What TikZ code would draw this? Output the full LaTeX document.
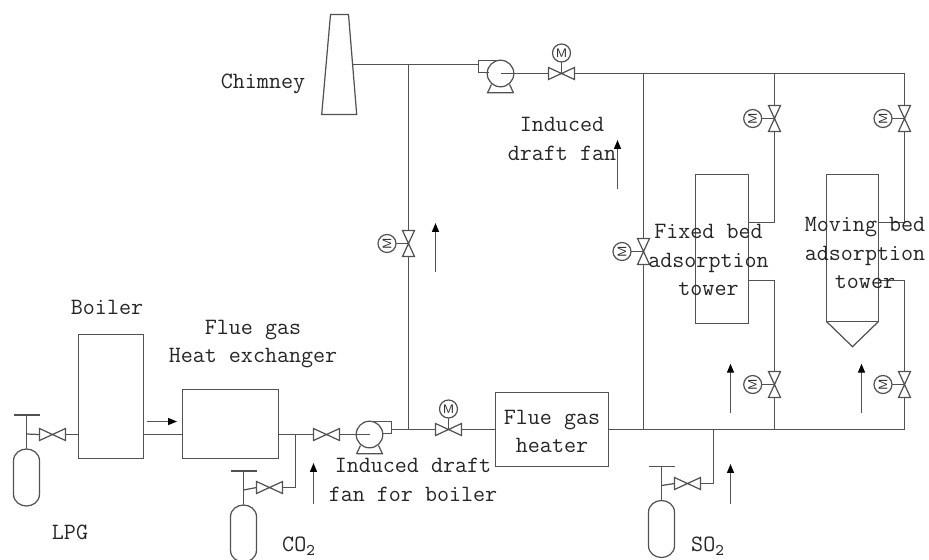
\documentclass[tikz,border=0pt]{standalone}
\usetikzlibrary{arrows.meta}

\definecolor{pipegray}{gray}{0.32}
\definecolor{labelgray}{gray}{0.15}

\tikzset{
  unitbox/.style={rectangle, draw=pipegray, inner sep=0pt, outer sep=0pt},
  actuator/.style={circle, draw=pipegray, inner sep=0pt, outer sep=0pt, minimum size=0.36cm, text=labelgray, font=\fontsize{7}{7}\selectfont\sffamily},
  caption/.style={text=labelgray, align=center, inner sep=0pt, font=\fontsize{13.3}{16.4}\selectfont\ttfamily},
  flow/.style={-{Triangle[length=5.1pt,width=4pt,black]}},
  valve/.pic={
    \draw (-13,-6) -- (13,6) -- (13,-6) -- (-13,6) -- cycle;
    \coordinate (-w) at (-13,0);
    \coordinate (-e) at (13,0);
    \coordinate (-c) at (0,0);
  },
  bottle/.pic={
    \draw (-13,12) .. controls (-13,4) and (-6,0) .. (0,0) .. controls (6,0) and (13,4) .. (13,12)
      -- (13,45) .. controls (13,53) and (6,57) .. (0,57) .. controls (-6,57) and (-13,53) .. (-13,45) -- cycle;
    \draw (-13,-34) -- (13,-34);
    \draw (0,-34) -- (0,0);
    \coordinate (-stem) at (0,-15);
  },
  fan/.pic={
    \draw (0,0) circle (13.3);
    \draw (0,-13) -- (22,-13) -- (22,-1) -- (12,-1);
    \draw (-13,19.3) -- (13,19.3) -- (9,11) (-13,19.3) -- (-9,11);
    \coordinate (-c) at (0,0);
  }
}

\begin{document}
\begin{tikzpicture}[x=0.02cm, y=-0.02cm, draw=pipegray, line width=0.7pt]
  \useasboundingbox (0,0) rectangle (929,559);

  % Equipment
  \node (boiler) at (111,396.5) [unitbox, minimum width=1.3cm, minimum height=2.48cm] {};
  \node (exchanger) at (230.5,424) [unitbox, minimum width=1.92cm, minimum height=1.38cm] {};
  \node (heater) at (552,429.5) [unitbox, minimum width=2.26cm, minimum height=1.48cm] {};
  \node (fixedbed) at (722,249) [unitbox, minimum width=1.06cm, minimum height=2.98cm] {};
  \node (movingbed) at (852.5,248) [unitbox, minimum width=1.04cm, minimum height=2.94cm] {};
  \draw (movingbed.south west) -- (852.5,346.7) -- (movingbed.south east);
  \draw (330.5,14.5) -- (348.5,14.5) -- (356.7,114.5) -- (321.7,114.5) -- cycle;
  \coordinate (chimneyout) at (353,64.5);

  % Bottles, fans and valves
  \pic (lpg) at (26.5,449) {bottle};
  \pic (co2) at (243.5,505) {bottle};
  \pic (so2) at (661.5,500.5) {bottle};
  \pic (boilerfan) at (369.5,434.5) {fan};
  \pic[xscale=-1] (mainfan) at (500.5,73.5) {fan};

  \pic (vlpg) at (52.5,434.5) {valve};
  \pic (vco2) at (269.5,487.5) {valve};
  \pic (vso2) at (687.5,483.5) {valve};
  \pic (vfan) at (326.5,434.5) {valve};
  \pic (vboiler) at (448.5,429.5) {valve};
  \pic (vtop) at (561.5,73.5) {valve};
  \pic[rotate=90] (vrise) at (408.5,243.5) {valve};
  \pic[rotate=90] (vbypass) at (643.5,251.5) {valve};
  \pic[rotate=90] (vfixedtop) at (774.5,118.5) {valve};
  \pic[rotate=90] (vmovingtop) at (904.5,118.5) {valve};
  \pic[rotate=90] (vfixedlow) at (774.5,384.5) {valve};
  \pic[rotate=90] (vmovinglow) at (904.5,384.5) {valve};

  \node (mboiler) at (448.5,409) [actuator] {M};
  \node (mtop) at (561.5,53) [actuator] {M};
  \node (mrise) at (387,243.5) [actuator, rotate=90] {M};
  \node (mbypass) at (622,251.5) [actuator, rotate=90] {M};
  \node (mfixedtop) at (752.7,118.5) [actuator, rotate=90] {M};
  \node (mmovingtop) at (883,118.5) [actuator, rotate=90] {M};
  \node (mfixedlow) at (752.7,384.5) [actuator, rotate=90] {M};
  \node (mmovinglow) at (883,384.5) [actuator, rotate=90] {M};

  % Junctions
  \coordinate (boilerjoin) at (408.5,429.5);
  \coordinate (chimneyjoin) at (408.5,64.5);
  \coordinate (bypassjoin) at (643.5,429.5);
  \coordinate (bypasstop) at (643.5,73.5);
  \coordinate (fixedjoin) at (774.5,429.5);
  \coordinate (fixedtopjoin) at (774.5,73.5);
  \coordinate (movingjoin) at (904.5,429.5);
  \coordinate (movingtopjoin) at (904.5,73.5);
  \coordinate (so2join) at (713.5,429.5);
  \coordinate (co2join) at (295.5,434.5);
  \coordinate (fanout) at (391.5,429.5);
  \coordinate (mainfanout) at (478.5,64.5);

  % Edges
  \draw (lpg-stem) -- (vlpg-w);
  \draw (vlpg-e) -- (boiler.west |- vlpg-e);
  \draw (boiler.east |- vlpg-e) -- (exchanger.west |- vlpg-e);
  \draw (exchanger.east |- vfan-w) -- (vfan-w);
  \draw (vfan-e) -- (boilerfan-c);
  \draw (co2join) |- (vco2-e);
  \draw (vco2-w) -- (co2-stem);
  \draw (fanout) -- (vboiler-w);
  \draw (vboiler-e) -- (heater.west |- vboiler-e);
  \draw (mboiler) -- (vboiler-c);
  \draw (heater.east |- movingjoin) -- (movingjoin);
  \draw (so2join) |- (vso2-e);
  \draw (vso2-w) -- (so2-stem);

  \draw (boilerjoin) -- (vrise-w);
  \draw (vrise-e) -- (chimneyjoin);
  \draw (mrise) -- (vrise-c);
  \draw (chimneyout) -- (mainfanout);
  \draw (mainfan-c) -- (vtop-w);
  \draw (mtop) -- (vtop-c);
  \draw (vtop-e) -- (movingtopjoin);

  \draw (bypassjoin) -- (vbypass-w);
  \draw (vbypass-e) -- (bypasstop);
  \draw (mbypass) -- (vbypass-c);

  \draw (fixedtopjoin) -- (vfixedtop-e);
  \draw (vfixedtop-w) |- (fixedbed.east |- 0,222.5);
  \draw (mfixedtop) -- (vfixedtop-c);
  \draw (fixedbed.east |- 0,280.5) -| (vfixedlow-e);
  \draw (vfixedlow-w) -- (fixedjoin);
  \draw (mfixedlow) -- (vfixedlow-c);

  \draw (movingtopjoin) -- (vmovingtop-e);
  \draw (vmovingtop-w) |- (movingbed.east |- 0,222.5);
  \draw (mmovingtop) -- (vmovingtop-c);
  \draw (movingbed.east |- 0,280.5) -| (vmovinglow-e);
  \draw (vmovinglow-w) -- (movingjoin);
  \draw (mmovinglow) -- (vmovinglow-c);

  % Flow direction
  \coordinate (flowboiler) at (147,421.5);
  \coordinate (flowco2) at (313.5,504);
  \coordinate (flowrise) at (435.5,272);
  \coordinate (flowfan) at (617.5,189);
  \coordinate (flowfixed) at (730.5,412.7);
  \coordinate (flowmoving) at (861.5,412.7);
  \coordinate (flowso2) at (730.5,504);
  \draw[flow] (flowboiler) -- ++(30,0);
  \draw[flow] (flowco2) -- ++(0,-41);
  \draw[flow] (flowrise) -- ++(0,-49);
  \draw[flow] (flowfan) -- ++(0,-49);
  \draw[flow] (flowfixed) -- ++(0,-49);
  \draw[flow] (flowmoving) -- ++(0,-49);
  \draw[flow] (flowso2) -- ++(0,-40);

  % Labels
  \node (lblchimney) at (263,84) [caption] {Chimney};
  \node (lblboiler) at (107,307) [caption] {Boiler};
  \node (lblexchanger) at (253,344) [caption] {Flue gas\\Heat exchanger};
  \node (lblmainfan) at (562,139) [caption] {Induced\\draft fan};
  \node (lblfixed) at (708.5,260) [caption] {Fixed bed\\adsorption\\tower};
  \node (lblmoving) at (865,253) [caption] {Moving bed\\adsorption\\tower};
  \node (lblheater) at (552,431.5) [caption] {Flue gas\\heater};
  \node (lblboilerfan) at (413,480) [caption] {Induced draft\\fan for boiler};
  \node (lbllpg) at (70,532) [caption] {LPG};
  \node (lblco2) at (299,546) [caption] {CO\textsubscript{2}};
  \node (lblso2) at (708,546) [caption] {SO\textsubscript{2}};
\end{tikzpicture}
\end{document}
